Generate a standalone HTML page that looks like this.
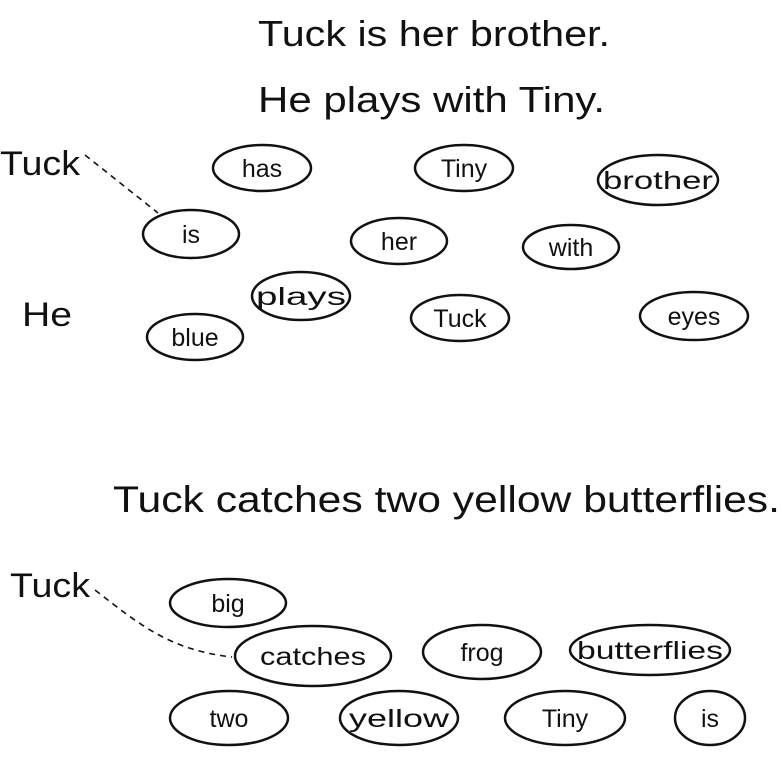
<!DOCTYPE html>
<html><head><meta charset="utf-8"><style>
html,body{margin:0;padding:0;background:#fff;}
svg{display:block;}
text{font-family:"Liberation Sans",sans-serif;fill:#111;}
.w{font-size:25px;text-anchor:middle;}
ellipse{fill:none;stroke:#111;stroke-width:2.5;}
</style></head><body>
<svg width="783" height="761" viewBox="0 0 783 761" xmlns="http://www.w3.org/2000/svg">
<text x="258" y="46" font-size="36" textLength="352" lengthAdjust="spacingAndGlyphs">Tuck is her brother.</text>
<text x="258" y="112" font-size="36" textLength="347" lengthAdjust="spacingAndGlyphs">He plays with Tiny.</text>
<text x="0" y="175" font-size="34" textLength="80" lengthAdjust="spacingAndGlyphs">Tuck</text>
<text x="22" y="326" font-size="34" textLength="50" lengthAdjust="spacingAndGlyphs">He</text>
<path d="M85 155 L158 213" stroke="#111" stroke-width="1.6" stroke-dasharray="6,5" fill="none"/>

<ellipse cx="262" cy="168" rx="49" ry="23"/><text class="w" x="262" y="177">has</text>
<ellipse cx="464" cy="168" rx="49" ry="23"/><text class="w" x="464" y="177">Tiny</text>
<ellipse cx="658" cy="180" rx="60" ry="25"/><text class="w" x="658" y="189" textLength="110" lengthAdjust="spacingAndGlyphs">brother</text>
<ellipse cx="191" cy="234" rx="48" ry="24"/><text class="w" x="191" y="243">is</text>
<ellipse cx="399" cy="241" rx="48" ry="23"/><text class="w" x="399" y="250">her</text>
<ellipse cx="571" cy="247" rx="48" ry="22"/><text class="w" x="571" y="256">with</text>
<ellipse cx="301" cy="296" rx="49" ry="24"/><text class="w" x="301" y="305" textLength="90" lengthAdjust="spacingAndGlyphs">plays</text>
<ellipse cx="460" cy="318" rx="49" ry="23"/><text class="w" x="460" y="327">Tuck</text>
<ellipse cx="694" cy="316" rx="54" ry="24"/><text class="w" x="694" y="325">eyes</text>
<ellipse cx="195" cy="337" rx="48" ry="23"/><text class="w" x="195" y="346">blue</text>

<text x="113" y="512" font-size="37" textLength="667" lengthAdjust="spacingAndGlyphs">Tuck catches two yellow butterflies.</text>
<text x="10" y="597" font-size="34" textLength="80" lengthAdjust="spacingAndGlyphs">Tuck</text>
<path d="M95 590 C140 625 170 650 232 657" stroke="#111" stroke-width="1.6" stroke-dasharray="6,5" fill="none"/>

<ellipse cx="228" cy="603" rx="58" ry="24"/><text class="w" x="228" y="612">big</text>
<ellipse cx="313" cy="656" rx="78" ry="30"/><text class="w" x="313" y="665" textLength="106" lengthAdjust="spacingAndGlyphs">catches</text>
<ellipse cx="482" cy="652" rx="59" ry="27"/><text class="w" x="482" y="661">frog</text>
<ellipse cx="650" cy="650" rx="80" ry="25"/><text class="w" x="650" y="659" textLength="146" lengthAdjust="spacingAndGlyphs">butterflies</text>
<ellipse cx="229" cy="718" rx="59" ry="27"/><text class="w" x="229" y="727">two</text>
<ellipse cx="399" cy="718" rx="59" ry="27"/><text class="w" x="399" y="727" textLength="100" lengthAdjust="spacingAndGlyphs">yellow</text>
<ellipse cx="565" cy="718" rx="60" ry="27"/><text class="w" x="565" y="727">Tiny</text>
<ellipse cx="710" cy="718" rx="35" ry="27"/><text class="w" x="710" y="727">is</text>
</svg>
</body></html>
